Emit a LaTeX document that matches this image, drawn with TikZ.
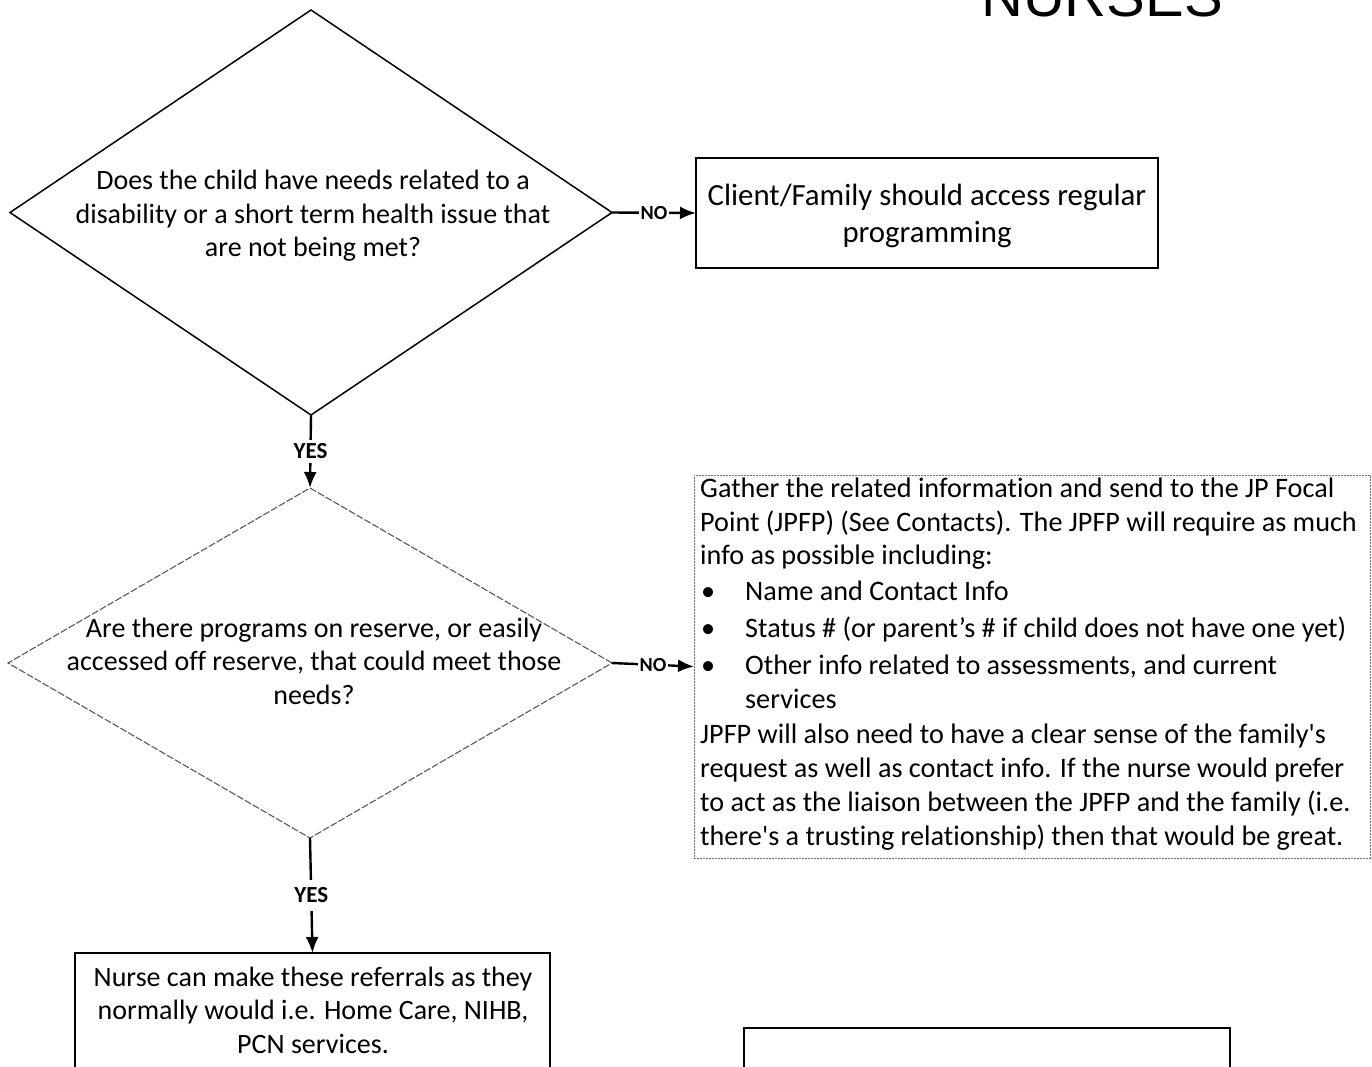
\documentclass[tikz,border=0pt]{standalone}
\usepackage{fontspec}
\setmainfont{Carlito}[Ligatures={TeX,NoCommon}]
\newfontfamily\titlefont{Liberation Sans}
\usetikzlibrary{shapes.geometric,arrows.meta}
\begin{document}
\begin{tikzpicture}[x=1pt,y=-1pt,
  txt/.style={font=\fontsize{28}{33.5}\selectfont, align=center, inner sep=0pt},
  decision/.style={shape=diamond, draw=black, line width=1.5pt, inner sep=0pt, outer sep=0pt},
  decisionlight/.style={shape=diamond, draw=black!65, line width=1.1pt, dash pattern=on 7pt off 2pt, inner sep=0pt, outer sep=0pt},
  procbox/.style={shape=rectangle, draw=black, line width=1.3pt, inner sep=0pt, outer sep=0pt},
  lightbox/.style={shape=rectangle, draw=black!55, line width=1pt, dash pattern=on 2pt off 1pt, inner sep=0pt, outer sep=0pt},
  conn/.style={draw=black, line width=2.4pt, -{Latex[length=16pt,width=13pt]}},
  lbl/.style={font=\bfseries\fontsize{20}{22}\selectfont, fill=white, inner xsep=2pt, inner ysep=5pt},
  yeslbl/.style={lbl, font=\bfseries\fontsize{23}{25}\selectfont}
]
\clip (0,0) rectangle (1372,1066);
\fill[white] (0,0) rectangle (1372,1066);

% title
\node[font=\titlefont\fontsize{58}{60}\selectfont, anchor=base west, inner sep=0pt] (title) at (981,16) {NURSES};

% decision 1
\node[decision, minimum width=602pt, minimum height=405pt] (d1) at (311,212.5) {};
\node[txt] (d1t) at (313,216) {Does the child have needs related to a\\disability or a short term health issue that\\are not being met?};

% box 1
\node[procbox, minimum width=462pt, minimum height=110pt] (b1) at (927,213) {};
\node[txt, font=\fontsize{30.8}{37}\selectfont] (b1t) at (927,216) {Client/Family should access regular\\programming};

% decision 2
\node[decisionlight, minimum width=604pt, minimum height=350pt] (d2) at (310,663) {};
\node[txt] (d2t) at (314,661) {Are there programs on reserve, or easily\\accessed off reserve, that could meet those\\needs?};

% box 2
\node[lightbox, minimum width=676pt, minimum height=383pt] (b2) at (1032,666.5) {};
\node[txt, align=left, anchor=north west, font=\fontsize{28.2}{34}\selectfont] (b2t) at (700,478) {%
Gather the related information and send to the JP Focal\\[-0.5pt]
Point (JPFP) (See Contacts). The JPFP will require as much\\[-0.5pt]
info as possible including:\\[2pt]
\makebox[45pt][l]{\hspace{1pt}\textbullet}Name and Contact Info\\[3pt]
\makebox[45pt][l]{\hspace{1pt}\textbullet}Status \# (or parent’s \# if child does not have one yet)\\[3pt]
\makebox[45pt][l]{\hspace{1pt}\textbullet}Other info related to assessments, and current\\
\hspace*{45pt}services\\[0.5pt]
JPFP will also need to have a clear sense of the family\textquotesingle s\\[0.5pt]
request as well as contact info. If the nurse would prefer\\
to act as the liaison between the JPFP and the family (i.e.\\
there\textquotesingle s a trusting relationship) then that would be great.};

% box 3
\node[procbox, minimum width=475pt, minimum height=127pt] (b3) at (312.5,1016.5) {};
\node[txt] (b3t) at (313,1010) {Nurse can make these referrals as they\\normally would i.e. Home Care, NIHB,\\PCN services.};

% box 4 (empty, cut off)
\node[procbox, minimum width=486pt, minimum height=100pt] (b4) at (987,1078) {};

% connectors
\draw[conn] (d1.east) -- node[lbl] {NO} (b1.west);
\draw[conn] (d1.south) -- node[yeslbl, inner ysep=4pt] {YES} (d2.north);
\draw[conn] (d2.east) -- node[lbl] {NO} (b2.west);
\draw[conn] (d2.south) -- node[yeslbl, inner ysep=8pt] {YES} (b3.north);
\end{tikzpicture}
\end{document}
